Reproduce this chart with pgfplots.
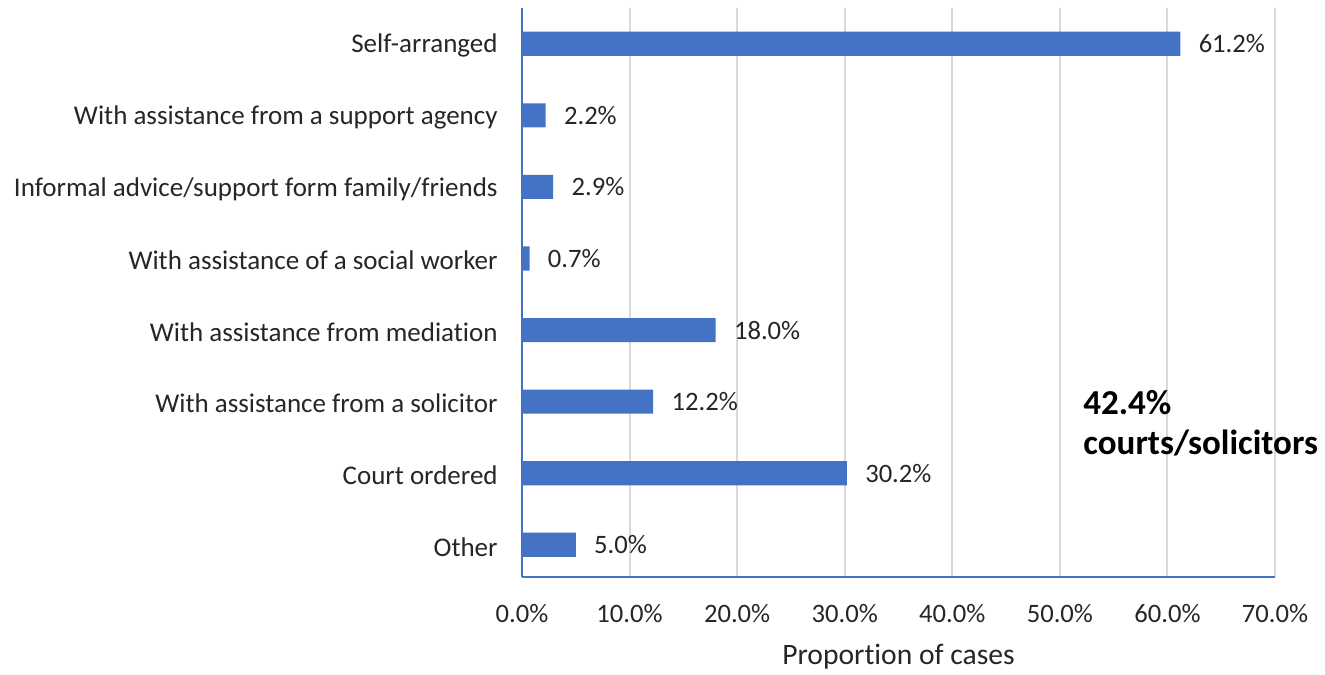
\documentclass[border=0pt]{standalone}
\usepackage{fontspec}
\setmainfont{Carlito}[Ligatures={NoCommon}]
\usepackage{pgfplots}
\pgfplotsset{compat=1.18}
\definecolor{barblue}{HTML}{4472C4}
\definecolor{gridgray}{HTML}{D9D9D9}
\begin{document}
\begin{tikzpicture}
\useasboundingbox (0,0) rectangle (662.5pt,337pt);
\begin{axis}[
  at={(261pt,48.5pt)}, anchor=south west,
  scale only axis,
  width=376.5pt, height=284.5pt,
  xbar, bar width=0.337,
  xmin=0, xmax=70,
  ymin=-0.5, ymax=7.45,
  y dir=reverse,
  ytick={0,...,7},
  yticklabels={Self-arranged,With assistance from a support agency,Informal advice/support form family/friends,With assistance of a social worker,With assistance from mediation,With assistance from a solicitor,Court ordered,Other},
  xtick={0,10,...,70},
  /pgf/number format/assume math mode=true,
  xticklabel={\pgfmathprintnumber[fixed,fixed zerofill,precision=1]{\tick}\%},
  major tick length=0pt,
  axis x line*=bottom, axis y line*=left,
  axis line style={barblue, line width=0.8pt, -},
  xmajorgrids, major grid style={gridgray, line width=1pt},
  ymajorgrids=false,
  tick label style={font=\fontsize{13.3pt}{15pt}\selectfont, text=black!85},
  yticklabel style={anchor=east, inner sep=0pt, xshift=-12pt, yshift=-1pt, font=\fontsize{13.5pt}{15pt}\selectfont},
  xticklabel style={anchor=center, inner sep=0pt, yshift=-18.5pt},
  xlabel={Proportion of cases},
  xlabel style={at={(axis description cs:0.5,-0.1406)}, anchor=center, font=\fontsize{14.8pt}{17pt}\selectfont, text=black!85},
  point meta=x,
  nodes near coords={\pgfmathprintnumber[fixed,fixed zerofill,precision=1]{\pgfplotspointmeta}\%},
  nodes near coords style={anchor=west, inner sep=0pt, xshift=9pt, font=\fontsize{13.3pt}{15pt}\selectfont, text=black!85},
  clip=false,
]
\addplot[fill=barblue, draw=none] coordinates {
  (61.2,0) (2.2,1) (2.9,2) (0.7,3) (18.0,4) (12.2,5) (30.2,6) (5.0,7)
};
\node[anchor=west, align=left, inner sep=0pt, font=\fontsize{17.5pt}{20pt}\selectfont\bfseries] at (axis cs:52.15,5.30) {42.4\%\\courts/solicitors};
\end{axis}
\end{tikzpicture}
\end{document}
